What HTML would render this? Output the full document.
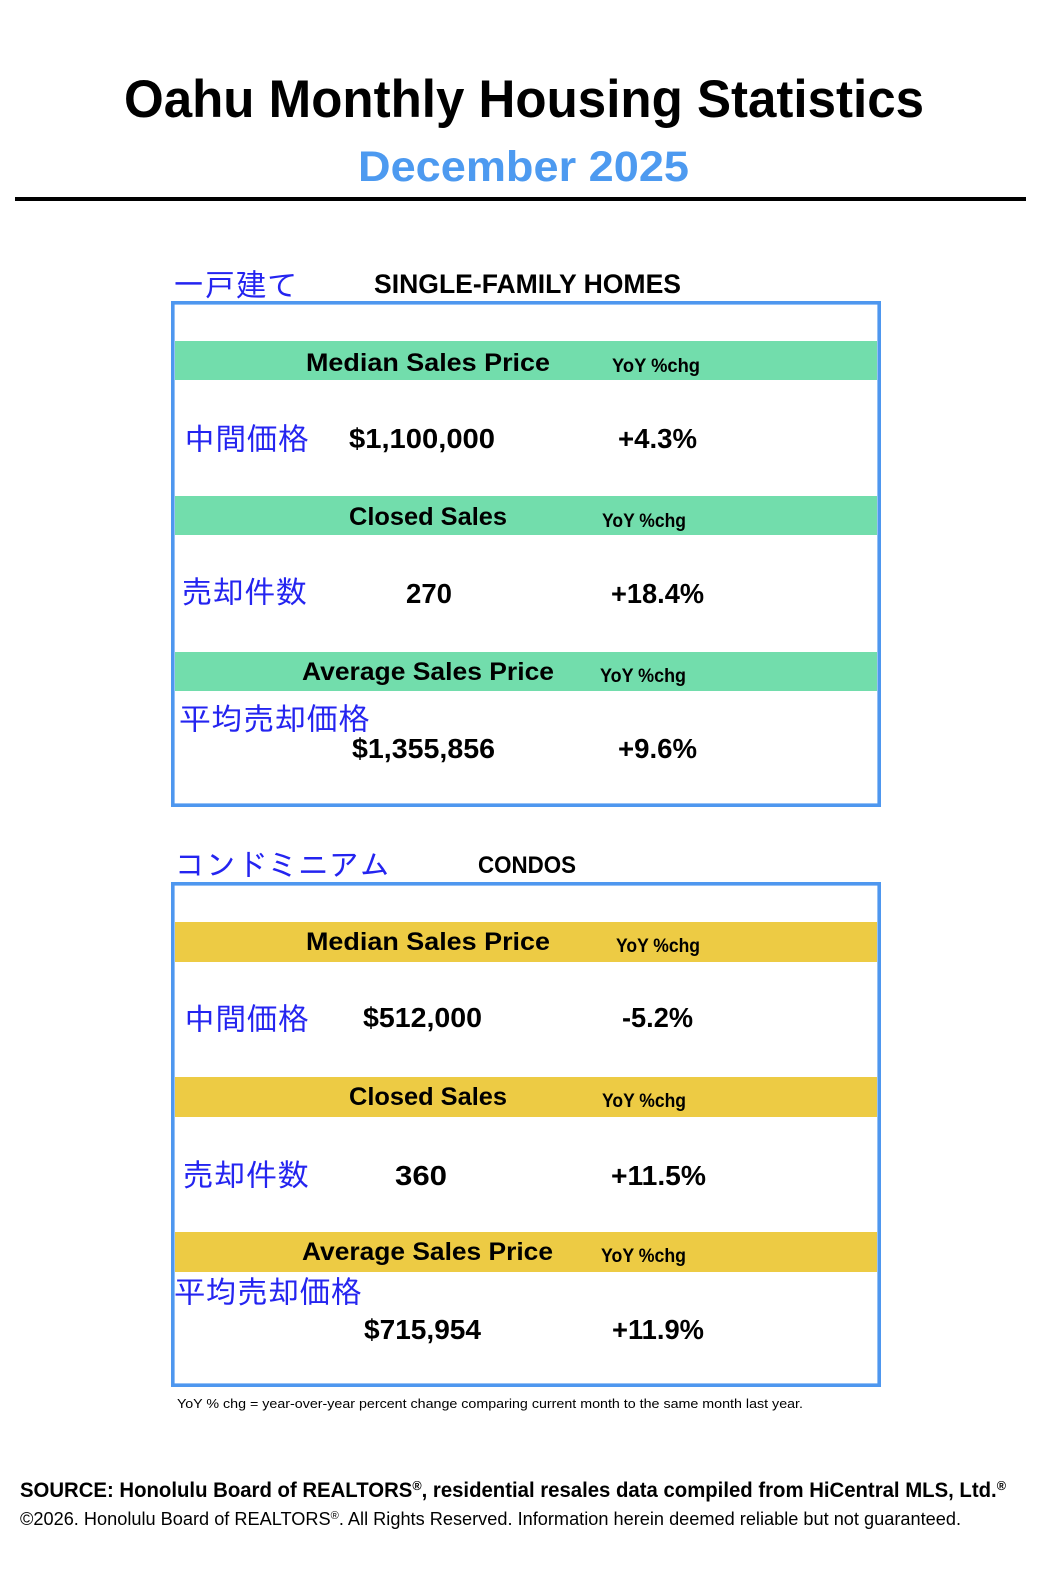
<!DOCTYPE html>
<html>
<head>
<meta charset="utf-8">
<style>
html,body{margin:0;padding:0;background:#fff;}
body{width:1038px;height:1581px;overflow:hidden;}
svg{display:block;}
.b{font-family:"Liberation Sans","Noto Sans CJK JP",sans-serif;font-weight:bold;fill:#000;}
.r{font-family:"Liberation Sans","Noto Sans CJK JP",sans-serif;font-weight:normal;fill:#000;}
.j{font-family:"Liberation Sans","IPAGothic","Noto Sans CJK JP",sans-serif;font-weight:normal;fill:#2424f0;}
</style>
</head>
<body>
<svg width="1038" height="1581" viewBox="0 0 1038 1581" xmlns="http://www.w3.org/2000/svg">
<rect x="0" y="0" width="1038" height="1581" fill="#fff"/>

<!-- Title -->
<text class="b" x="124" y="117" font-size="53" textLength="800" lengthAdjust="spacingAndGlyphs">Oahu Monthly Housing Statistics</text>
<text class="b" x="358" y="181" font-size="43" textLength="331" lengthAdjust="spacingAndGlyphs" style="fill:#4d9af0">December 2025</text>
<rect x="15" y="197" width="1011" height="4" fill="#000"/>

<!-- SINGLE FAMILY -->
<text class="j" x="173" y="296" font-size="31" textLength="125" lengthAdjust="spacingAndGlyphs">一戸建て</text>
<text class="b" x="374" y="293" font-size="26.5" textLength="307" lengthAdjust="spacingAndGlyphs">SINGLE-FAMILY HOMES</text>

<rect x="175" y="341" width="702" height="39" fill="#72ddac"/>
<rect x="175" y="496" width="702" height="39" fill="#72ddac"/>
<rect x="175" y="652" width="702" height="39" fill="#72ddac"/>
<rect x="172.8" y="302.8" width="706.4" height="502.4" fill="none" stroke="#4e97ef" stroke-width="3.6"/>

<text class="b" x="306" y="371" font-size="25" textLength="244" lengthAdjust="spacingAndGlyphs">Median Sales Price</text>
<text class="b" x="612" y="372" font-size="19.5" textLength="88" lengthAdjust="spacingAndGlyphs">YoY %chg</text>

<text class="j" x="184" y="450" font-size="31" textLength="125" lengthAdjust="spacingAndGlyphs">中間価格</text>
<text class="b" x="349" y="448" font-size="28" textLength="146" lengthAdjust="spacingAndGlyphs">$1,100,000</text>
<text class="b" x="618" y="448" font-size="28" textLength="79" lengthAdjust="spacingAndGlyphs">+4.3%</text>

<text class="b" x="349" y="525" font-size="25" textLength="158" lengthAdjust="spacingAndGlyphs">Closed Sales</text>
<text class="b" x="602" y="527" font-size="19.5" textLength="84" lengthAdjust="spacingAndGlyphs">YoY %chg</text>

<text class="j" x="181" y="603" font-size="31" textLength="126" lengthAdjust="spacingAndGlyphs">売却件数</text>
<text class="b" x="406" y="603" font-size="28" textLength="46" lengthAdjust="spacingAndGlyphs">270</text>
<text class="b" x="611" y="603" font-size="28" textLength="93" lengthAdjust="spacingAndGlyphs">+18.4%</text>

<text class="b" x="302" y="680" font-size="25" textLength="252" lengthAdjust="spacingAndGlyphs">Average Sales Price</text>
<text class="b" x="600" y="682" font-size="19.5" textLength="86" lengthAdjust="spacingAndGlyphs">YoY %chg</text>

<text class="j" x="179" y="730" font-size="31" textLength="191" lengthAdjust="spacingAndGlyphs">平均売却価格</text>
<text class="b" x="352" y="758" font-size="28" textLength="143" lengthAdjust="spacingAndGlyphs">$1,355,856</text>
<text class="b" x="618" y="758" font-size="28" textLength="79" lengthAdjust="spacingAndGlyphs">+9.6%</text>

<!-- CONDOS -->
<text class="j" x="175" y="876" font-size="31" textLength="215" lengthAdjust="spacingAndGlyphs">コンドミニアム</text>
<text class="b" x="478" y="873" font-size="23.7" textLength="98" lengthAdjust="spacingAndGlyphs">CONDOS</text>

<rect x="175" y="922" width="702" height="40" fill="#edcb44"/>
<rect x="175" y="1077" width="702" height="40" fill="#edcb44"/>
<rect x="175" y="1232" width="702" height="40" fill="#edcb44"/>
<rect x="172.8" y="883.8" width="706.4" height="501.4" fill="none" stroke="#4e97ef" stroke-width="3.6"/>

<text class="b" x="306" y="950" font-size="25" textLength="244" lengthAdjust="spacingAndGlyphs">Median Sales Price</text>
<text class="b" x="616" y="952" font-size="19.5" textLength="84" lengthAdjust="spacingAndGlyphs">YoY %chg</text>

<text class="j" x="184" y="1030" font-size="31" textLength="125" lengthAdjust="spacingAndGlyphs">中間価格</text>
<text class="b" x="363" y="1027" font-size="28" textLength="119" lengthAdjust="spacingAndGlyphs">$512,000</text>
<text class="b" x="622" y="1027" font-size="28" textLength="71" lengthAdjust="spacingAndGlyphs">-5.2%</text>

<text class="b" x="349" y="1105" font-size="25" textLength="158" lengthAdjust="spacingAndGlyphs">Closed Sales</text>
<text class="b" x="602" y="1107" font-size="19.5" textLength="84" lengthAdjust="spacingAndGlyphs">YoY %chg</text>

<text class="j" x="182" y="1186" font-size="31" textLength="127" lengthAdjust="spacingAndGlyphs">売却件数</text>
<text class="b" x="395" y="1185" font-size="28" textLength="52" lengthAdjust="spacingAndGlyphs">360</text>
<text class="b" x="611" y="1185" font-size="28" textLength="95" lengthAdjust="spacingAndGlyphs">+11.5%</text>

<text class="b" x="302" y="1260" font-size="25" textLength="251" lengthAdjust="spacingAndGlyphs">Average Sales Price</text>
<text class="b" x="601" y="1262" font-size="19.5" textLength="85" lengthAdjust="spacingAndGlyphs">YoY %chg</text>

<text class="j" x="174" y="1303" font-size="31" textLength="188" lengthAdjust="spacingAndGlyphs">平均売却価格</text>
<text class="b" x="364" y="1339" font-size="28" textLength="117" lengthAdjust="spacingAndGlyphs">$715,954</text>
<text class="b" x="612" y="1339" font-size="28" textLength="92" lengthAdjust="spacingAndGlyphs">+11.9%</text>

<!-- Footnotes -->
<text class="r" x="177" y="1408" font-size="13" textLength="626" lengthAdjust="spacingAndGlyphs">YoY % chg = year-over-year percent change comparing current month to the same month last year.</text>

<text class="b" x="20" y="1497" font-size="21" textLength="986" lengthAdjust="spacingAndGlyphs">SOURCE: Honolulu Board of REALTORS<tspan font-size="13" dy="-7">®</tspan><tspan font-size="21" dy="7">, residential resales data compiled from HiCentral MLS, Ltd.</tspan><tspan font-size="13" dy="-7">®</tspan></text>

<text class="r" x="20" y="1525" font-size="18" textLength="941" lengthAdjust="spacingAndGlyphs">©2026. Honolulu Board of REALTORS<tspan font-size="11" dy="-6">®</tspan><tspan font-size="18" dy="6">. All Rights Reserved. Information herein deemed reliable but not guaranteed.</tspan></text>
</svg>
</body>
</html>
